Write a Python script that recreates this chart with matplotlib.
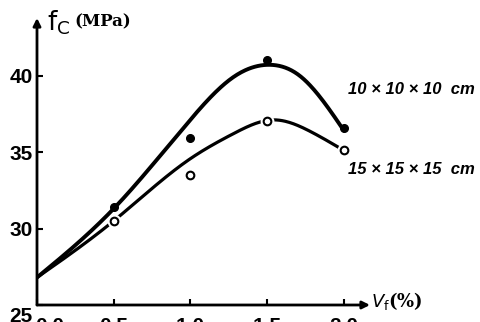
import numpy as np
import matplotlib
matplotlib.use("Agg")
import matplotlib.pyplot as plt
from matplotlib.transforms import ScaledTranslation

# fibre volume fraction (%) at the test points
vf = [0.5, 1.0, 1.5, 2.0]
# measured strength, 10x10x10 cm cubes (filled dots)
fc_10 = [31.4, 35.9, 41.0, 36.55]
# measured strength, 15x15x15 cm cubes (open dots)
fc_15 = [30.5, 33.5, 37.0, 35.1]

# hand-drawn trend curves
curve_x_10 = [0.0, 0.5, 0.99, 1.28, 1.52, 1.71, 2.0]
curve_y_10 = [26.8, 31.3, 37.0, 39.9, 40.7, 40.0, 36.4]
curve_x_15 = [0.0, 0.5, 0.99, 1.28, 1.54, 1.78, 2.0]
curve_y_15 = [26.8, 30.5, 34.5, 36.2, 37.1, 36.35, 35.1]

x_ticks = [0.0, 0.5, 1.0, 1.5, 2.0]
x_tick_labels = ["0.0", "0.5", "1.0", "1.5", "2.0"]
y_ticks = [25, 30, 35, 40]
y_tick_labels = ["25", "30", "35", "40"]


#natural cubic spline, just to draw the smooth trend lines
def spline(xk, yk, xs):
    xk = np.asarray(xk, float)
    yk = np.asarray(yk, float)
    n = len(xk)
    h = np.diff(xk)
    A = np.zeros((n, n))
    b = np.zeros(n)
    A[0, 0] = A[-1, -1] = 1
    for i in range(1, n - 1):
        A[i, i - 1] = h[i - 1]
        A[i, i] = 2 * (h[i - 1] + h[i])
        A[i, i + 1] = h[i]
        b[i] = 6 * ((yk[i + 1] - yk[i]) / h[i] - (yk[i] - yk[i - 1]) / h[i - 1])
    M = np.linalg.solve(A, b)
    idx = np.clip(np.searchsorted(xk, xs) - 1, 0, n - 2)
    x0, x1 = xk[idx], xk[idx + 1]
    hh = x1 - x0
    t0 = x1 - xs
    t1 = xs - x0
    return ((M[idx] * t0 ** 3 + M[idx + 1] * t1 ** 3) / (6 * hh)
            + (yk[idx] / hh - M[idx] * hh / 6) * t0
            + (yk[idx + 1] / hh - M[idx + 1] * hh / 6) * t1)


def main():
    W, H = 481, 322
    fig = plt.figure(figsize=(W / 100, H / 100), dpi=100)
    ax = fig.add_axes([37 / W, 17 / H, (370 - 37) / W, (305 - 18) / H])
    ax.set_xlim(0, 2.17)
    ax.set_ylim(25, 43.76)

    for s in ax.spines.values():
        s.set_visible(False)

    # axes drawn as arrows
    arrow = dict(arrowstyle="-|>", lw=2, color="black", mutation_scale=11,
                 shrinkA=0, shrinkB=0)
    ax.annotate("", xy=(1, 0), xytext=(0, 0), xycoords="axes fraction", arrowprops=arrow)
    ax.annotate("", xy=(0, 1), xytext=(0, 0), xycoords="axes fraction", arrowprops=arrow)

    xs10 = np.linspace(curve_x_10[0], curve_x_10[-1], 300)
    xs15 = np.linspace(curve_x_15[0], curve_x_15[-1], 300)
    ax.plot(xs10, spline(curve_x_10, curve_y_10, xs10), color="black", lw=2.8,
            solid_capstyle="round", zorder=3)
    ax.plot(xs15, spline(curve_x_15, curve_y_15, xs15), color="black", lw=2.3,
            solid_capstyle="round", zorder=3)

    ax.plot(vf, fc_10, "o", color="black", markersize=5.5, zorder=5)
    # white halo breaks the line round the open dots
    ax.plot(vf, fc_15, "o", color="white", markersize=9, zorder=4)
    ax.plot(vf, fc_15, "o", markerfacecolor="white", markeredgecolor="black",
            markeredgewidth=1.5, markersize=5.5, zorder=5)

    num_font = dict(family="Liberation Sans", weight="bold", size=15)
    ax.set_xticks(x_ticks)
    ax.set_xticklabels(x_tick_labels, fontdict=num_font)
    ax.set_yticks(y_ticks)
    ax.set_yticklabels(y_tick_labels, fontdict=num_font)
    ax.tick_params(axis="x", direction="in", length=4, width=1.5, pad=9)
    ax.tick_params(axis="y", direction="in", length=4, width=1.5, pad=3)

    # the 25 sits below the x axis line, the 0.0 a bit right of the corner
    lab25 = ax.get_yticklabels()[0]
    lab25.set_transform(lab25.get_transform()
                        + ScaledTranslation(0, -7 / 72, fig.dpi_scale_trans))
    lab0 = ax.get_xticklabels()[0]
    lab0.set_transform(lab0.get_transform()
                       + ScaledTranslation(9 / 72, 0, fig.dpi_scale_trans))

    fig.text(47 / W, 1 - 23 / H, r"$\mathrm{f_C}$", fontsize=19,
             family="DejaVu Serif", va="center", ha="left")
    fig.text(74 / W, 1 - 22 / H, "(MPa)", fontsize=12, weight="bold",
             family="DejaVu Serif", va="center", ha="left")
    fig.text(371 / W, 1 - 301 / H, r"$V_\mathrm{f}$(%)", fontsize=13, weight="bold",
             family="DejaVu Serif", va="center", ha="left")

    fig.text(348 / W, 1 - 90 / H, "10 × 10 × 10  cm", fontsize=12, style="italic",
             weight="bold", family="Liberation Sans", va="center", ha="left")
    fig.text(348 / W, 1 - 170 / H, "15 × 15 × 15  cm", fontsize=12, style="italic",
             weight="bold", family="Liberation Sans", va="center", ha="left")

    fig.savefig("out.png", dpi=100, facecolor="white")
    plt.close(fig)


if __name__ == "__main__":
    main()
